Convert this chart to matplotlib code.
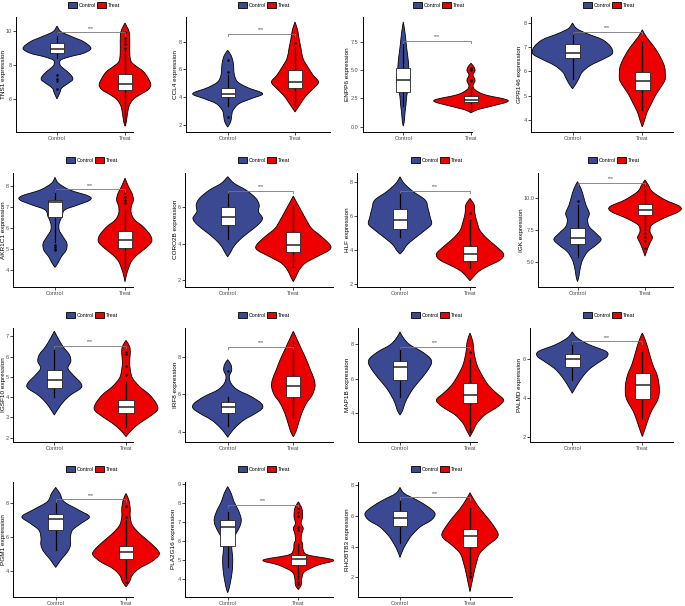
import numpy as np
import matplotlib
matplotlib.use('Agg')
import matplotlib.pyplot as plt
from matplotlib.path import Path
from matplotlib.patches import PathPatch, Patch, Rectangle

plt.rcParams['font.family'] = ['Liberation Sans', 'DejaVu Sans']

# ---- data ----
genes = ['TNS1', 'CCL4', 'ENPP6', 'GPR146', 'AKR1C1', 'CORO2B', 'HLF', 'IGK',
         'IGSF10', 'IRF8', 'MAP1B', 'PALMD', 'PGM1', 'PLA2G16', 'RHOBTB3']
groups = ['Control', 'Treat']

ylims = [(4.08, 10.8), (1.47, 9.78), (-0.49, 9.77), (3.49, 8.25),
         (3.21, 8.63), (1.63, 7.91), (1.86, 8.53), (3.05, 11.95),
         (1.80, 7.41), (3.46, 9.56), (2.36, 8.93), (1.74, 7.60),
         (2.46, 9.29), (3.07, 9.14), (0.75, 8.22)]
yticks = [[6, 8, 10], [2, 4, 6, 8], [0.0, 2.5, 5.0, 7.5], [4, 5, 6, 7, 8],
          [4, 5, 6, 7, 8], [2, 4, 6], [2, 4, 6, 8], [5.0, 7.5, 10.0],
          [2, 3, 4, 5, 6, 7], [4, 6, 8], [4, 6, 8], [2, 4, 6],
          [4, 6, 8], [4, 5, 6, 7, 8, 9], [2, 4, 6, 8]]

# violin profiles: expression value and half-width (density, in group units)
ctrl_y = [
    [10.27, 9.94, 9.65, 9.36, 8.97, 8.68, 8.49, 8.30, 8.10, 7.91, 7.62, 7.33, 7.13, 6.94, 6.65, 6.36, 6.01],
    [7.37, 7.01, 6.53, 6.05, 5.57, 5.08, 4.67, 4.24, 3.88, 3.52, 3.04, 2.67, 2.31, 2.02, 1.83],
    [9.33, 8.59, 7.85, 7.26, 6.53, 5.79, 4.90, 4.17, 3.43, 2.69, 1.95, 1.22, 0.48, 0.04],
    [8.0, 7.77, 7.56, 7.31, 7.01, 6.73, 6.52, 6.25, 5.97, 5.70, 5.49, 5.28],
    [8.41, 8.13, 7.81, 7.52, 7.33, 7.10, 6.86, 6.54, 6.22, 5.90, 5.56, 5.27, 4.95, 4.63, 4.32, 4.13],
    [7.69, 7.32, 6.95, 6.50, 6.13, 5.76, 5.39, 5.03, 4.57, 4.20, 3.83, 3.56, 3.28],
    [8.29, 7.90, 7.42, 6.93, 6.44, 5.95, 5.52, 5.17, 4.69, 4.30, 4.0, 3.77],
    [11.25, 10.73, 10.08, 9.43, 8.78, 8.26, 7.73, 7.21, 6.74, 6.30, 5.78, 5.13, 4.48, 3.83, 3.44],
    [7.25, 6.92, 6.50, 6.09, 5.76, 5.43, 5.10, 4.69, 4.44, 4.11, 3.78, 3.45, 3.12],
    [7.86, 7.59, 7.28, 6.96, 6.60, 6.24, 5.88, 5.52, 5.26, 4.99, 4.63, 4.27, 3.95, 3.70],
    [8.70, 8.35, 7.96, 7.57, 7.19, 6.90, 6.51, 6.03, 5.55, 5.06, 4.58, 4.19, 3.90],
    [7.40, 7.09, 6.74, 6.40, 6.14, 5.88, 5.53, 5.19, 4.84, 4.55, 4.24],
    [8.95, 8.59, 8.10, 7.60, 7.21, 6.81, 6.42, 5.98, 5.52, 5.13, 4.73, 4.44, 4.20],
    [8.88, 8.52, 8.08, 7.64, 7.20, 6.85, 6.41, 5.97, 5.53, 5.18, 4.74, 4.30, 3.86, 3.51, 3.28],
    [7.85, 7.46, 7.03, 6.59, 6.16, 5.73, 5.29, 4.75, 4.21, 3.78, 3.30],
]
ctrl_w = [
    [0, 0.06, 0.22, 0.39, 0.50, 0.39, 0.20, 0.06, 0.04, 0.06, 0.15, 0.22, 0.23, 0.17, 0.07, 0.04, 0],
    [0, 0.05, 0.08, 0.09, 0.10, 0.15, 0.30, 0.52, 0.35, 0.17, 0.08, 0.06, 0.05, 0.025, 0],
    [0, 0.02, 0.035, 0.045, 0.06, 0.075, 0.085, 0.10, 0.075, 0.05, 0.04, 0.025, 0.015, 0],
    [0, 0.06, 0.21, 0.43, 0.55, 0.57, 0.45, 0.26, 0.14, 0.09, 0.05, 0],
    [0, 0.05, 0.21, 0.48, 0.50, 0.33, 0.14, 0.10, 0.06, 0.06, 0.12, 0.17, 0.16, 0.09, 0.04, 0],
    [0, 0.10, 0.28, 0.43, 0.48, 0.47, 0.53, 0.46, 0.30, 0.18, 0.09, 0.05, 0],
    [0, 0.06, 0.19, 0.36, 0.40, 0.43, 0.45, 0.36, 0.21, 0.10, 0.05, 0],
    [0, 0.05, 0.09, 0.125, 0.175, 0.15, 0.175, 0.275, 0.35, 0.275, 0.15, 0.075, 0.04, 0.02, 0],
    [0, 0.05, 0.12, 0.21, 0.23, 0.19, 0.26, 0.37, 0.37, 0.23, 0.13, 0.06, 0],
    [0, 0.05, 0.06, 0.025, 0.05, 0.15, 0.36, 0.51, 0.53, 0.43, 0.25, 0.13, 0.05, 0],
    [0, 0.05, 0.14, 0.31, 0.43, 0.45, 0.40, 0.31, 0.21, 0.13, 0.07, 0.04, 0],
    [0, 0.07, 0.24, 0.48, 0.50, 0.40, 0.26, 0.17, 0.10, 0.05, 0],
    [0, 0.06, 0.12, 0.33, 0.48, 0.36, 0.24, 0.21, 0.21, 0.17, 0.09, 0.04, 0],
    [0, 0.05, 0.09, 0.15, 0.19, 0.18, 0.12, 0.06, 0.06, 0.07, 0.07, 0.06, 0.04, 0.02, 0],
    [0, 0.06, 0.24, 0.40, 0.50, 0.45, 0.29, 0.17, 0.09, 0.04, 0],
]
treat_y = [
    [10.45, 9.94, 9.36, 8.68, 8.2, 7.91, 7.62, 7.23, 6.84, 6.55, 6.26, 5.98, 5.59, 5.1, 4.7, 4.42],
    [9.42, 8.82, 8.22, 7.49, 6.77, 6.17, 5.57, 5.08, 4.60, 4.12, 3.64, 3.28, 2.92],
    [5.64, 5.35, 4.99, 4.61, 4.11, 3.64, 3.28, 2.84, 2.31, 1.81, 1.51, 1.22],
    [7.72, 7.42, 7.01, 6.59, 6.18, 5.77, 5.60, 5.32, 5.01, 4.66, 4.32, 4.04, 3.70],
    [8.37, 7.97, 7.65, 7.33, 7.02, 6.70, 6.38, 6.06, 5.67, 5.35, 5.03, 4.71, 4.40, 4.08, 3.76, 3.44],
    [6.62, 6.22, 5.76, 5.30, 4.84, 4.39, 3.93, 3.65, 3.28, 2.92, 2.55, 2.18, 1.91],
    [7.03, 6.64, 6.15, 5.66, 5.17, 4.69, 4.20, 3.77, 3.42, 3.03, 2.74, 2.44, 2.21],
    [11.38, 10.99, 10.47, 9.82, 9.30, 8.91, 8.39, 7.86, 7.34, 6.90, 6.48, 6.04, 5.44],
    [6.80, 6.50, 6.17, 5.76, 5.35, 4.94, 4.52, 4.11, 3.70, 3.37, 3.04, 2.71, 2.38, 2.05],
    [9.38, 8.93, 8.39, 7.86, 7.32, 6.78, 6.39, 5.97, 5.52, 4.99, 4.45, 4.0, 3.73],
    [8.64, 8.15, 7.48, 6.80, 6.22, 5.64, 5.16, 4.77, 4.39, 3.90, 3.42, 3.03, 2.65],
    [7.34, 6.91, 6.31, 5.71, 5.19, 4.67, 4.16, 3.81, 3.38, 2.95, 2.52, 2.0],
    [8.59, 8.20, 7.70, 7.21, 6.71, 6.22, 5.72, 5.23, 4.93, 4.53, 4.14, 3.74, 3.35, 3.05],
    [8.08, 7.73, 7.29, 6.94, 6.68, 6.41, 6.06, 5.88, 5.53, 5.27, 5.0, 4.74, 4.39, 4.04, 3.68, 3.45],
    [7.50, 7.03, 6.48, 5.94, 5.40, 4.86, 4.54, 4.10, 3.56, 2.91, 2.37, 1.94, 1.51, 1.07],
]
treat_w = [
    [0, 0.06, 0.07, 0.07, 0.09, 0.17, 0.27, 0.34, 0.38, 0.34, 0.22, 0.12, 0.06, 0.035, 0.02, 0],
    [0, 0.04, 0.06, 0.09, 0.12, 0.19, 0.27, 0.35, 0.27, 0.17, 0.10, 0.05, 0],
    [0, 0.04, 0.06, 0.03, 0.06, 0.03, 0.06, 0.20, 0.55, 0.30, 0.10, 0],
    [0, 0.06, 0.17, 0.26, 0.32, 0.33, 0.32, 0.26, 0.19, 0.13, 0.07, 0.04, 0],
    [0, 0.05, 0.10, 0.12, 0.09, 0.09, 0.14, 0.26, 0.36, 0.38, 0.29, 0.17, 0.09, 0.05, 0.02, 0],
    [0, 0.06, 0.13, 0.20, 0.28, 0.43, 0.56, 0.55, 0.36, 0.18, 0.09, 0.04, 0],
    [0, 0.06, 0.07, 0.10, 0.14, 0.24, 0.38, 0.48, 0.43, 0.24, 0.12, 0.05, 0],
    [0, 0.05, 0.11, 0.30, 0.52, 0.50, 0.275, 0.10, 0.075, 0.11, 0.075, 0.04, 0],
    [0, 0.05, 0.06, 0.05, 0.06, 0.09, 0.19, 0.33, 0.42, 0.44, 0.33, 0.19, 0.08, 0],
    [0, 0.06, 0.13, 0.20, 0.26, 0.32, 0.33, 0.29, 0.20, 0.13, 0.08, 0.04, 0],
    [0, 0.04, 0.06, 0.10, 0.17, 0.26, 0.38, 0.48, 0.40, 0.21, 0.10, 0.05, 0],
    [0, 0.05, 0.10, 0.15, 0.21, 0.24, 0.24, 0.21, 0.14, 0.09, 0.05, 0],
    [0, 0.04, 0.06, 0.06, 0.09, 0.19, 0.33, 0.45, 0.47, 0.36, 0.19, 0.09, 0.05, 0],
    [0, 0.05, 0.06, 0.04, 0.07, 0.05, 0.04, 0.06, 0.07, 0.14, 0.50, 0.28, 0.09, 0.05, 0.04, 0],
    [0, 0.06, 0.14, 0.24, 0.33, 0.40, 0.38, 0.26, 0.14, 0.09, 0.06, 0.04, 0.02, 0],
]

# box stats: lower whisker, Q1, median, Q3, upper whisker
ctrl_box = [
    [8.40, 8.68, 8.94, 9.27, 9.90], [3.33, 4.00, 4.19, 4.67, 5.57],
    [1.81, 3.08, 4.14, 5.20, 7.40], [5.70, 6.57, 6.77, 7.14, 7.63],
    [5.35, 6.54, 7.25, 7.33, 7.84], [4.24, 5.03, 5.45, 6.04, 6.77],
    [4.74, 5.21, 5.76, 6.38, 7.32], [5.39, 6.35, 6.82, 7.60, 9.43],
    [4.03, 4.44, 4.82, 5.32, 6.34], [4.30, 5.02, 5.31, 5.61, 5.88],
    [4.97, 5.93, 6.65, 7.05, 7.77], [4.93, 5.57, 6.00, 6.28, 6.91],
    [5.23, 6.42, 7.05, 7.35, 8.10], [4.65, 5.76, 6.73, 7.12, 7.56],
    [4.26, 5.36, 5.84, 6.31, 7.03],
]
treat_box = [
    [4.50, 6.51, 6.88, 7.48, 8.90], [3.33, 4.67, 5.08, 5.98, 7.60],
    [1.51, 2.16, 2.40, 2.69, 3.43], [4.39, 5.21, 5.60, 5.97, 7.21],
    [4.00, 5.03, 5.43, 5.86, 6.86], [2.73, 3.56, 3.93, 4.66, 6.13],
    [2.93, 3.36, 3.75, 4.24, 5.66], [7.50, 8.65, 9.01, 9.48, 10.70],
    [2.54, 3.20, 3.53, 3.86, 4.77], [4.72, 5.85, 6.46, 7.00, 8.84],
    [2.94, 4.58, 5.06, 5.74, 7.19], [2.95, 3.95, 4.67, 5.28, 6.36],
    [3.54, 4.67, 5.13, 5.49, 7.01], [4.00, 4.74, 5.06, 5.27, 5.90],
    [2.37, 4.00, 4.69, 5.12, 6.48],
]
ctrl_out = [[7.4, 7.15, 7.05, 6.6], [6.65, 5.8, 2.55], [], [], [5.19, 5.11, 4.98, 4.95],
            [], [], [9.77], [], [7.26], [], [], [], [], []]
treat_out = [[9.0, 9.2, 9.4, 9.6, 9.9], [7.93], [5.2, 5.0, 4.17, 4.08], [], [7.65, 7.49, 7.33, 7.2],
             [], [6.2, 5.76], [10.99, 7.27, 6.9, 6.64, 6.04], [6.22, 6.13, 5.55, 5.10], [],
             [7.57], [], [7.84, 7.21, 3.35], [7.73, 7.56, 7.33, 6.76, 6.59, 3.85, 3.75],
             [2.26, 2.09, 2.0]]
bracket_y = [9.9, 8.58, 7.65, 7.63, 7.84, 6.92, 7.47, 11.17,
             6.54, 8.54, 7.83, 6.91, 8.24, 7.91, 7.20]

# ---- layout (pixels in the 685x606 image) ----
# axis left, axis right, axis top, axis bottom, Control x, Treat x
panel_px = [
    (16, 133, 17, 132, 57, 125), (186, 330, 17, 132, 227.7, 295),
    (362.7, 471.7, 17, 132, 403.3, 471), (531, 673.3, 17, 132, 572.5, 642.3),
    (13.3, 133, 172.7, 286.7, 55, 125), (185, 333.3, 172.7, 286.7, 227.7, 293.3),
    (357.3, 475, 172.7, 286.7, 400, 470), (538.3, 673.3, 172.7, 286.7, 577.5, 645),
    (13.3, 133.3, 328, 441.7, 54.3, 126), (185, 333.3, 328, 441.7, 227.7, 293.3),
    (358.3, 476.7, 328, 441.7, 400, 470), (530, 673.3, 328, 441.7, 572.3, 642.3),
    (13.3, 133.3, 481.7, 596.7, 55.7, 126), (185, 333.3, 481.7, 596.7, 227.7, 298.3),
    (358.3, 511.7, 481.7, 596.7, 400, 470),
]
ylabel_px = [3.5, 175, 347.3, 520, 3.5, 175, 347.3, 521.7,
             3.3, 175, 347.3, 519.3, 3.5, 173.5, 347.3]
legend_px = [(94, 5), (264, 5), (439, 5), (609, 5),
             (92, 160), (264, 160), (437, 160), (614, 160),
             (92, 315), (264, 315), (437, 315), (609, 315),
             (92, 469), (264, 469), (437, 469)]

colors = ['#3B4992', '#EE0000']
W, H = 685, 606
box_w = 0.21


def side_curve(pts):
    # open Catmull-Rom curve through pts, returned as bezier vertices (without the first point)
    n = len(pts)
    verts = []
    for i in range(n - 1):
        p0 = pts[max(i - 1, 0)]
        p1, p2 = pts[i], pts[i + 1]
        p3 = pts[min(i + 2, n - 1)]
        verts += [p1 + (p2 - p0) / 6, p2 - (p3 - p1) / 6, p2]
    return verts


def draw_violin(ax, c, ys, ws, color):
    ys = np.asarray(ys, float)
    ws = np.asarray(ws, float)
    right = np.column_stack([c + ws, ys])
    left = np.column_stack([c - ws, ys])[::-1]
    rv = side_curve(right)
    lv = side_curve(left)
    verts = [right[0]] + rv + lv + [right[0]]
    codes = [Path.MOVETO] + [Path.CURVE4] * (len(rv) + len(lv)) + [Path.CLOSEPOLY]
    patch = PathPatch(Path(verts, codes), facecolor=color, edgecolor='black',
                      linewidth=0.6, zorder=2, clip_on=False)
    ax.add_patch(patch)


def draw_box(ax, c, stats, outs):
    lo, q1, med, q3, hi = stats
    ax.plot([c, c], [lo, q1], color='black', lw=0.9, zorder=3, clip_on=False)
    ax.plot([c, c], [q3, hi], color='black', lw=0.9, zorder=3, clip_on=False)
    ax.add_patch(Rectangle((c - box_w / 2, q1), box_w, q3 - q1, facecolor='white',
                           edgecolor='#222222', linewidth=0.6, zorder=4, clip_on=False))
    ax.plot([c - box_w / 2, c + box_w / 2], [med, med], color='#222222', lw=1.1,
            zorder=5, solid_capstyle='butt', clip_on=False)
    if outs:
        ax.plot([c] * len(outs), outs, 'o', color='black', ms=1.8, mew=0,
                zorder=5, clip_on=False)


fig = plt.figure(figsize=(W / 100, H / 100), dpi=100)

for k, gene in enumerate(genes):
    x0, x1, y0, y1, pc, pt = panel_px[k]
    ax = fig.add_axes([x0 / W, 1 - y1 / H, (x1 - x0) / W, (y1 - y0) / H])
    u = pt - pc
    ax.set_xlim(1 - (pc - x0) / u, 2 + (x1 - pt) / u)
    ax.set_ylim(*ylims[k])

    draw_violin(ax, 1, ctrl_y[k], ctrl_w[k], colors[0])
    draw_violin(ax, 2, treat_y[k], treat_w[k], colors[1])
    draw_box(ax, 1, ctrl_box[k], ctrl_out[k])
    draw_box(ax, 2, treat_box[k], treat_out[k])

    # significance bracket
    yr = ylims[k][1] - ylims[k][0]
    by = bracket_y[k]
    tip = 0.02 * yr
    ax.plot([1, 1, 2, 2], [by - tip, by, by, by - tip], color='#777777', lw=0.6,
            zorder=6, clip_on=False)
    ax.text(1.5, by + 0.015 * yr, '***', ha='center', va='bottom', fontsize=3.6,
            color='#333333', zorder=7)

    ax.set_xticks([1, 2])
    ax.set_xticklabels(groups)
    ax.set_yticks(yticks[k])
    ax.spines['top'].set_visible(False)
    ax.spines['right'].set_visible(False)
    for s in ('left', 'bottom'):
        ax.spines[s].set_linewidth(0.7)
    ax.tick_params(labelsize=4.0, length=2, width=0.5, pad=1.0, labelcolor='#4D4D4D')
    ax.set_ylabel(gene + ' expression', fontsize=4.6)
    ax.yaxis.label.set_va('center')
    ax.yaxis.set_label_coords((ylabel_px[k] - x0) / (x1 - x0), 0.5)
    ax.set_facecolor('none')

    handles = [Patch(facecolor=colors[0], edgecolor='black', linewidth=0.6),
               Patch(facecolor=colors[1], edgecolor='black', linewidth=0.6)]
    lx, ly = legend_px[k]
    fig.legend(handles, groups, loc='center', bbox_to_anchor=(lx / W, 1 - ly / H),
               ncol=2, frameon=False, fontsize=3.8, handlelength=1.7,
               handleheight=1.5, handletextpad=0.35, columnspacing=0.35,
               borderpad=0, borderaxespad=0)

fig.savefig('out.png', dpi=100)
